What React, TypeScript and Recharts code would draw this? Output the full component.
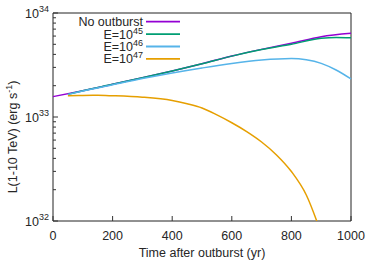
import React from 'react';
import { LineChart, Line, XAxis, YAxis, ReferenceArea, Legend } from 'recharts';

const timeNo = [0, 100, 200, 300, 400, 500, 600, 700, 800, 900, 1000];
const lumNo = [1.57e33, 1.79e33, 2.06e33, 2.38e33, 2.77e33, 3.25e33, 3.86e33, 4.47e33, 5.12e33, 5.92e33, 6.38e33];

const time45 = [50, 100, 200, 300, 400, 500, 600, 700, 800, 900, 950, 1000];
const lum45 = [1.65e33, 1.79e33, 2.06e33, 2.38e33, 2.77e33, 3.25e33, 3.85e33, 4.45e33, 5.01e33, 5.71e33, 5.82e33, 5.78e33];

const time46 = [50, 100, 200, 300, 400, 500, 600, 700, 800, 850, 900, 950, 1000];
const lum46 = [1.65e33, 1.78e33, 2.04e33, 2.34e33, 2.65e33, 2.96e33, 3.27e33, 3.53e33, 3.65e33, 3.55e33, 3.28e33, 2.83e33, 2.32e33];

const time47 = [50, 100, 150, 200, 300, 400, 450, 500, 550, 600, 650, 700, 750, 800, 850, 900];
const lum47 = [1.6e33, 1.61e33, 1.615e33, 1.6e33, 1.55e33, 1.44e33, 1.34e33, 1.22e33, 1.047e33, 8.81e32, 7.24e32, 5.75e32, 4.32e32, 2.99e32, 1.78e32, 0.76e32];

const xTicks = [0, 200, 400, 600, 800, 1000];
const yTicks = [
  1e32, 2e32, 3e32, 4e32, 5e32, 6e32, 7e32, 8e32, 9e32,
  1e33, 2e33, 3e33, 4e33, 5e33, 6e33, 7e33, 8e33, 9e33, 1e34,
];

const series = [
  { name: 'No outburst', exp: '', color: '#9400d3', t: timeNo, L: lumNo },
  { name: 'E=10', exp: '45', color: '#009e73', t: time45, L: lum45 },
  { name: 'E=10', exp: '46', color: '#56b4e9', t: time46, L: lum46 },
  { name: 'E=10', exp: '47', color: '#e69f00', t: time47, L: lum47 },
];

const font = '"Liberation Sans", Arial, sans-serif';
const ink = '#262626';

const toRows = (t: number[], L: number[]) => t.map((v, i) => ({ t: v, L: L[i] }));

const YTick = (props: any) => {
  const { x, y, payload } = props;
  const e = Math.log10(payload.value);
  const major = Math.abs(e - Math.round(e)) < 1e-6;
  return (
    <g>
      <line x1={x} x2={x + (major ? 5 : 3)} y1={y} y2={y} stroke="#333" />
      {major && (
        <text x={x - 4} y={y + 5} textAnchor="end" fontSize={12.5} fill={ink} fontFamily={font}>
          10
          <tspan dy={-6} fontSize={9}>{Math.round(e)}</tspan>
        </text>
      )}
    </g>
  );
};

const XTick = (props: any) => {
  const { x, y, payload } = props;
  return (
    <g>
      <line x1={x} x2={x} y1={y} y2={y - 5} stroke="#333" />
      <text x={x} y={y + 19} textAnchor="middle" fontSize={12.5} fill={ink} fontFamily={font}>
        {payload.value}
      </text>
    </g>
  );
};

const LegendBox = () => (
  <svg width={130} height={52}>
    {series.map((s, i) => {
      const ly = 7.7 + i * 12.4;
      return (
        <g key={i}>
          <text x={83} y={ly + 4.5} textAnchor="end" fontSize={12.5} fill={ink} fontFamily={font}>
            {s.name}
            {s.exp && <tspan dy={-5} fontSize={9}>{s.exp}</tspan>}
          </text>
          <line x1={86} x2={120} y1={ly} y2={ly} stroke={s.color} strokeWidth={1.8} />
        </g>
      );
    })}
  </svg>
);

const App = () => {
  return (
    <div style={{ position: 'absolute', left: 0, top: 0, width: 374, height: 262, background: '#fff' }}>
      <LineChart width={374} height={262} margin={{ top: 13, right: 23, bottom: 0, left: 0 }}>
        <XAxis
          type="number"
          dataKey="t"
          domain={[0, 1000]}
          ticks={xTicks}
          interval={0}
          tick={<XTick />}
          tickSize={0}
          tickMargin={0}
          tickLine={false}
          axisLine={false}
          height={41}
        />
        <YAxis
          type="number"
          scale="log"
          domain={[1e32, 1e34]}
          allowDataOverflow
          ticks={yTicks}
          interval={0}
          tick={<YTick />}
          tickSize={0}
          tickMargin={0}
          tickLine={false}
          axisLine={false}
          width={53}
        />
        <ReferenceArea x1={0} x2={1000} y1={1e32} y2={1e34} fill="none" stroke="#222" strokeWidth={1} />
        {series.map((s, i) => (
          <Line
            key={i}
            data={toRows(s.t, s.L)}
            dataKey="L"
            name={s.name + s.exp}
            type="monotone"
            stroke={s.color}
            strokeWidth={1.5}
            dot={false}
            isAnimationActive={false}
          />
        ))}
        <Legend
          layout="vertical"
          align="center"
          verticalAlign="middle"
          wrapperStyle={{ left: 60, top: 14, width: 130, height: 52 }}
          content={<LegendBox />}
        />
      </LineChart>
      <svg width={374} height={262} style={{ position: 'absolute', left: 0, top: 0, pointerEvents: 'none' }}>
        <text x={202} y={257} textAnchor="middle" fontSize={12.5} fill={ink} fontFamily={font}>
          Time after outburst (yr)
        </text>
        <text
          x={0}
          y={0}
          transform="translate(17,137) rotate(-90)"
          textAnchor="middle"
          fontSize={12.5}
          fill={ink}
          fontFamily={font}
        >
          L(1-10 TeV) (erg s<tspan dy={-5} fontSize={9}>-1</tspan><tspan dy={5}>)</tspan>
        </text>
      </svg>
    </div>
  );
};

export default App;
